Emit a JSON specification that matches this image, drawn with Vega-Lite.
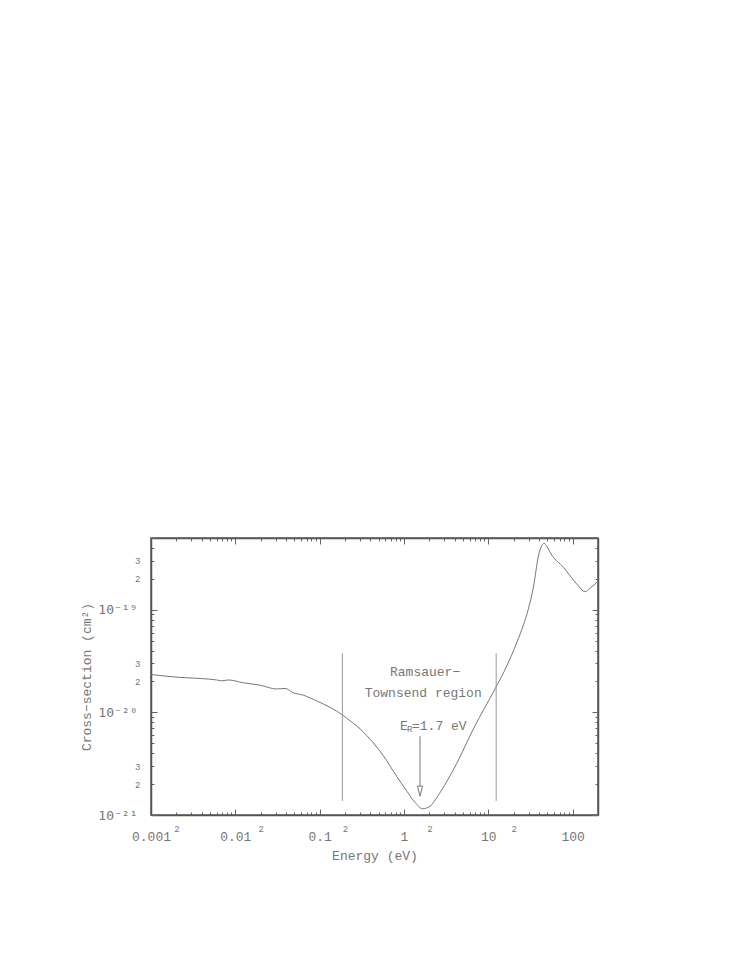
{
  "$schema": "https://vega.github.io/schema/vega-lite/v6.json",
  "width": 447,
  "height": 277,
  "autosize": "none",
  "padding": {"left": 151, "top": 538, "right": 149, "bottom": 152},
  "background": "white",
  "config": {
    "font": "Liberation Mono",
    "view": {"stroke": "#555", "strokeWidth": 1.5},
    "axis": {
      "labelColor": "#777",
      "titleColor": "#777",
      "tickColor": "#666",
      "domainColor": "#555",
      "domainWidth": 1.5,
      "grid": false,
      "labelOverlap": false,
      "labelFlush": false,
      "labelBound": false,
      "titleFontWeight": "normal",
      "titleFontSize": 13
    }
  },
  "datasets": {
    "curve": [
      {"E": 0.001, "sigma": 2.34e-20},
      {"E": 0.00221, "sigma": 2.19e-20},
      {"E": 0.00381, "sigma": 2.14e-20},
      {"E": 0.00601, "sigma": 2.07e-20},
      {"E": 0.0069, "sigma": 2.03e-20},
      {"E": 0.00826, "sigma": 2.07e-20},
      {"E": 0.01245, "sigma": 1.94e-20},
      {"E": 0.01963, "sigma": 1.84e-20},
      {"E": 0.031, "sigma": 1.69e-20},
      {"E": 0.0389, "sigma": 1.71e-20},
      {"E": 0.0488, "sigma": 1.55e-20},
      {"E": 0.0641, "sigma": 1.47e-20},
      {"E": 0.0925, "sigma": 1.29e-20},
      {"E": 0.133, "sigma": 1.12e-20},
      {"E": 0.188, "sigma": 9.4e-21},
      {"E": 0.23, "sigma": 8.26e-21},
      {"E": 0.275, "sigma": 7.38e-21},
      {"E": 0.396, "sigma": 5.48e-21},
      {"E": 0.57, "sigma": 3.77e-21},
      {"E": 0.822, "sigma": 2.37e-21},
      {"E": 1.08, "sigma": 1.71e-21},
      {"E": 1.36, "sigma": 1.32e-21},
      {"E": 1.66, "sigma": 1.15e-21},
      {"E": 2.04, "sigma": 1.22e-21},
      {"E": 2.45, "sigma": 1.48e-21},
      {"E": 3.22, "sigma": 2.12e-21},
      {"E": 4.23, "sigma": 3.19e-21},
      {"E": 6.65, "sigma": 6.9e-21},
      {"E": 12.1, "sigma": 1.71e-20},
      {"E": 16.6, "sigma": 2.84e-20},
      {"E": 21.8, "sigma": 4.81e-20},
      {"E": 26.1, "sigma": 7.09e-20},
      {"E": 29.9, "sigma": 1.02e-19},
      {"E": 34.3, "sigma": 1.66e-19},
      {"E": 39.3, "sigma": 3.34e-19},
      {"E": 43.1, "sigma": 4.21e-19},
      {"E": 45.9, "sigma": 4.44e-19},
      {"E": 49.9, "sigma": 4.09e-19},
      {"E": 55.6, "sigma": 3.49e-19},
      {"E": 77.8, "sigma": 2.59e-19},
      {"E": 112, "sigma": 1.78e-19},
      {"E": 141, "sigma": 1.5e-19},
      {"E": 161, "sigma": 1.62e-19},
      {"E": 200, "sigma": 1.9e-19}
    ],
    "bounds": [
      {"E": 0.186, "lo": 1.37e-21, "hi": 3.78e-20},
      {"E": 12.4, "lo": 1.37e-21, "hi": 3.78e-20}
    ],
    "arrow": [
      {"E": 1.55, "top": 5.86e-21, "bottom": 1.91e-21, "tip": 1.71e-21}
    ],
    "notes": [
      {"E": 1.78, "sigma": 2.47e-20, "label": "Ramsauer−"},
      {"E": 1.69, "sigma": 1.54e-20, "label": "Townsend region"}
    ],
    "er": [
      {"E": 2.21, "sigma": 7.33e-21, "part": "E"},
      {"E": 2.21, "sigma": 7.33e-21, "part": "R"},
      {"E": 2.21, "sigma": 7.33e-21, "part": "=1.7 eV"}
    ]
  },
  "layer": [
    {
      "data": {"name": "curve"},
      "mark": {"type": "line", "color": "#777", "strokeWidth": 1, "interpolate": "monotone", "clip": true},
      "encoding": {
        "x": {
          "field": "E", "type": "quantitative",
          "scale": {"type": "log", "domain": [0.001, 200], "nice": false},
          "axis": {
            "orient": "bottom",
            "title": "Energy (eV)",
            "titlePadding": 6,
            "values": [0.001,0.002,0.003,0.004,0.005,0.006,0.007,0.008,0.009,0.01,0.02,0.03,0.04,0.05,0.06,0.07,0.08,0.09,0.1,0.2,0.3,0.4,0.5,0.6,0.7,0.8,0.9,1,2,3,4,5,6,7,8,9,10,20,30,40,50,60,70,80,90,100,200],
            "labelExpr": "datum.value==0.001?'0.001':datum.value==0.01?'0.01':datum.value==0.1?'0.1':datum.value==1?'1':datum.value==10?'10':datum.value==100?'100':(datum.value==0.002||datum.value==0.02||datum.value==0.2||datum.value==2||datum.value==20)?'2':''",
            "labelBaseline": "top",
            "labelFontSize": {"condition": {"test": "datum.value==0.001||datum.value==0.01||datum.value==0.1||datum.value==1||datum.value==10||datum.value==100", "value": 13}, "value": 9},
            "tickSize": {"condition": {"test": "datum.value==0.001||datum.value==0.01||datum.value==0.1||datum.value==1||datum.value==10||datum.value==100", "value": -6}, "value": -3},
            "labelPadding": {"condition": {"test": "datum.value==0.001||datum.value==0.01||datum.value==0.1||datum.value==1||datum.value==10||datum.value==100", "value": 21}, "value": 12}
          }
        },
        "y": {
          "field": "sigma", "type": "quantitative",
          "scale": {"type": "log", "domain": [1e-21, 5e-19], "nice": false},
          "axis": {
            "orient": "left",
            "title": "Cross−section (cm²)",
            "titlePadding": 4,
            "values": [1e-21,2e-21,3e-21,4e-21,5e-21,6e-21,7e-21,8e-21,9e-21,1e-20,2e-20,3e-20,4e-20,5e-20,6e-20,7e-20,8e-20,9e-20,1e-19,2e-19,3e-19,4e-19,5e-19],
            "labelExpr": "datum.value==1e-21?'10⁻²¹':datum.value==1e-20?'10⁻²⁰':datum.value==1e-19?'10⁻¹⁹':(datum.value==2e-21||datum.value==2e-20||datum.value==2e-19)?'2':(datum.value==3e-21||datum.value==3e-20||datum.value==3e-19)?'3':''",
            "labelAlign": "right",
            "labelBaseline": "middle",
            "labelFont": {"condition": {"test": "datum.value==1e-21||datum.value==1e-20||datum.value==1e-19", "value": "DejaVu Sans Mono"}, "value": "Liberation Mono"},
            "labelFontSize": {"condition": {"test": "datum.value==1e-21||datum.value==1e-20||datum.value==1e-19", "value": 13}, "value": 9},
            "tickSize": {"condition": {"test": "datum.value==1e-21||datum.value==1e-20||datum.value==1e-19", "value": -6}, "value": -3},
            "labelPadding": {"condition": {"test": "datum.value==1e-21||datum.value==1e-20||datum.value==1e-19", "value": 20}, "value": 14}
          }
        }
      }
    },
    {
      "data": {"name": "bounds"},
      "mark": {"type": "rule", "color": "#999", "strokeWidth": 1},
      "encoding": {
        "x": {
          "field": "E", "type": "quantitative",
          "axis": {
            "orient": "top", "title": null, "labels": false,
            "values": [0.001,0.002,0.003,0.004,0.005,0.006,0.007,0.008,0.009,0.01,0.02,0.03,0.04,0.05,0.06,0.07,0.08,0.09,0.1,0.2,0.3,0.4,0.5,0.6,0.7,0.8,0.9,1,2,3,4,5,6,7,8,9,10,20,30,40,50,60,70,80,90,100,200],
            "tickSize": {"condition": {"test": "datum.value==0.001||datum.value==0.01||datum.value==0.1||datum.value==1||datum.value==10||datum.value==100", "value": -6}, "value": -3}
          }
        },
        "y": {
          "field": "lo", "type": "quantitative",
          "axis": {
            "orient": "right", "title": null, "labels": false,
            "values": [1e-21,2e-21,3e-21,4e-21,5e-21,6e-21,7e-21,8e-21,9e-21,1e-20,2e-20,3e-20,4e-20,5e-20,6e-20,7e-20,8e-20,9e-20,1e-19,2e-19,3e-19,4e-19,5e-19],
            "tickSize": {"condition": {"test": "datum.value==1e-21||datum.value==1e-20||datum.value==1e-19", "value": -6}, "value": -3}
          }
        },
        "y2": {"field": "hi"}
      }
    },
    {
      "data": {"name": "arrow"},
      "mark": {"type": "rule", "color": "#777", "strokeWidth": 1},
      "encoding": {
        "x": {"field": "E", "type": "quantitative", "axis": null},
        "y": {"field": "top", "type": "quantitative", "axis": null},
        "y2": {"field": "bottom"}
      }
    },
    {
      "data": {"name": "arrow"},
      "mark": {"type": "point", "shape": "M-0.5,-1L0.5,-1L0,1Z", "size": 100, "filled": true, "fill": "white", "stroke": "#777", "strokeWidth": 1, "opacity": 1},
      "encoding": {
        "x": {"field": "E", "type": "quantitative", "axis": null},
        "y": {"field": "tip", "type": "quantitative", "axis": null}
      }
    },
    {
      "data": {"name": "notes"},
      "mark": {"type": "text", "fontSize": 13, "color": "#777", "align": "center", "baseline": "middle"},
      "encoding": {
        "x": {"field": "E", "type": "quantitative", "axis": null},
        "y": {"field": "sigma", "type": "quantitative", "axis": null},
        "text": {"field": "label"}
      }
    },
    {
      "data": {"name": "er"},
      "transform": [{"filter": "datum.part == 'E'"}],
      "mark": {"type": "text", "fontSize": 13, "color": "#777", "align": "left", "baseline": "middle", "dx": -33},
      "encoding": {
        "x": {"field": "E", "type": "quantitative", "axis": null},
        "y": {"field": "sigma", "type": "quantitative", "axis": null},
        "text": {"field": "part"}
      }
    },
    {
      "data": {"name": "er"},
      "transform": [{"filter": "datum.part == 'R'"}],
      "mark": {"type": "text", "fontSize": 9, "color": "#777", "align": "left", "baseline": "middle", "dx": -26, "dy": 3},
      "encoding": {
        "x": {"field": "E", "type": "quantitative", "axis": null},
        "y": {"field": "sigma", "type": "quantitative", "axis": null},
        "text": {"field": "part"}
      }
    },
    {
      "data": {"name": "er"},
      "transform": [{"filter": "datum.part == '=1.7 eV'"}],
      "mark": {"type": "text", "fontSize": 13, "color": "#777", "align": "left", "baseline": "middle", "dx": -21},
      "encoding": {
        "x": {"field": "E", "type": "quantitative", "axis": null},
        "y": {"field": "sigma", "type": "quantitative", "axis": null},
        "text": {"field": "part"}
      }
    }
  ]
}
